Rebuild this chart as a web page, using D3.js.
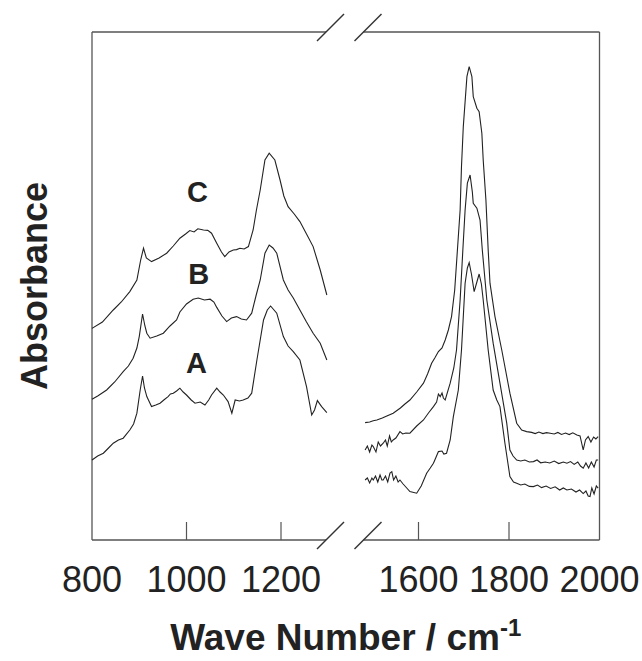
<!DOCTYPE html>
<html lang="en">
<head>
  <meta charset="UTF-8" />
  <title>Absorbance spectra</title>
  <style>
  body {
    margin: 0;
    background: #fff;
  }
  svg {
    display: block;
    font-family: "Liberation Sans", Arial, sans-serif;
  }
  </style>
  <script src="https://d3js.org/d3.v7.min.js"></script>
</head>
<body>
  <div id="chart"></div>
  <script>
    // Spectra: [wave number, absorbance (a.u.)]
    // low range 800-1300, high range 1480-2000
    const lowC = [[800,1.058],[822,1.09],[845,1.15],[862,1.19],[880,1.242],[895,1.30],[903,1.40],[909,1.459],[915,1.41],[926,1.392],[942,1.41],[958,1.434],[972,1.47],[986,1.509],[998,1.53],[1007,1.547],[1016,1.54],[1024,1.556],[1036,1.55],[1045,1.548],[1053,1.534],[1064,1.484],[1074,1.44],[1081,1.417],[1090,1.44],[1099,1.45],[1106,1.452],[1113,1.459],[1122,1.455],[1131,1.467],[1141,1.55],[1148,1.65],[1156,1.75],[1166,1.90],[1175,1.934],[1187,1.90],[1198,1.80],[1206,1.72],[1215,1.667],[1228,1.63],[1240,1.592],[1254,1.53],[1268,1.467],[1283,1.35],[1297,1.225]];
    const lowB = [[800,0.704],[812,0.72],[831,0.75],[848,0.79],[866,0.842],[877,0.87],[887,0.909],[895,0.96],[900,1.017],[907,1.13],[912,1.07],[916,1.034],[923,1.009],[937,1.02],[951,1.034],[965,1.07],[979,1.10],[986,1.14],[1000,1.18],[1014,1.204],[1025,1.21],[1038,1.20],[1050,1.204],[1058,1.19],[1064,1.163],[1075,1.12],[1085,1.092],[1095,1.11],[1106,1.117],[1116,1.105],[1127,1.10],[1138,1.134],[1147,1.22],[1156,1.30],[1166,1.434],[1175,1.475],[1183,1.46],[1191,1.434],[1205,1.30],[1215,1.25],[1226,1.21],[1240,1.15],[1254,1.09],[1268,1.034],[1283,0.984],[1297,0.90]];
    const lowA = [[800,0.40],[812,0.42],[824,0.434],[835,0.46],[845,0.484],[856,0.50],[866,0.509],[880,0.55],[888,0.58],[895,0.634],[902,0.75],[907,0.82],[911,0.76],[916,0.717],[926,0.667],[935,0.675],[944,0.684],[952,0.70],[961,0.717],[966,0.73],[972,0.734],[979,0.745],[986,0.759],[993,0.74],[1000,0.725],[1010,0.70],[1018,0.684],[1029,0.69],[1039,0.675],[1047,0.70],[1053,0.725],[1064,0.759],[1071,0.74],[1078,0.725],[1088,0.692],[1096,0.634],[1103,0.70],[1112,0.695],[1120,0.70],[1130,0.71],[1138,0.734],[1149,0.90],[1163,1.10],[1171,1.15],[1178,1.17],[1191,1.134],[1205,1.017],[1215,0.97],[1226,0.942],[1240,0.90],[1254,0.767],[1265,0.625],[1271,0.65],[1277,0.697],[1286,0.667],[1297,0.637]];

    const highC = [[1482,0.587],[1492,0.59],[1500,0.596],[1508,0.60],[1520,0.61],[1530,0.62],[1544,0.634],[1560,0.66],[1570,0.68],[1581,0.70],[1596,0.74],[1611,0.784],[1620,0.83],[1629,0.884],[1636,0.91],[1644,0.942],[1652,0.96],[1659,1.00],[1666,1.05],[1673,1.117],[1680,1.25],[1686,1.45],[1692,1.65],[1695,1.867],[1699,2.067],[1707,2.317],[1712,2.367],[1718,2.317],[1721,2.217],[1729,2.159],[1734,2.142],[1740,2.034],[1743,1.90],[1749,1.70],[1754,1.45],[1758,1.284],[1769,1.117],[1784,0.95],[1802,0.734],[1817,0.584],[1828,0.55],[1839,0.542],[1850,0.538],[1858,0.532],[1866,0.54],[1875,0.532],[1883,0.537],[1891,0.534],[1900,0.53],[1908,0.538],[1916,0.528],[1925,0.535],[1933,0.527],[1941,0.536],[1950,0.525],[1957,0.52],[1964,0.45],[1969,0.50],[1975,0.517],[1981,0.49],[1987,0.515],[1992,0.505],[1997,0.517]];
    const highB = [[1482,0.45],[1487,0.47],[1492,0.44],[1497,0.475],[1500,0.467],[1506,0.44],[1511,0.49],[1516,0.47],[1522,0.484],[1527,0.50],[1531,0.47],[1536,0.52],[1540,0.49],[1544,0.50],[1550,0.51],[1559,0.542],[1565,0.53],[1572,0.535],[1581,0.534],[1596,0.57],[1611,0.60],[1622,0.635],[1633,0.667],[1640,0.69],[1644,0.73],[1648,0.717],[1652,0.735],[1655,0.71],[1659,0.70],[1670,0.784],[1678,0.86],[1684,0.95],[1692,1.20],[1698,1.45],[1703,1.65],[1708,1.784],[1714,1.825],[1719,1.74],[1721,1.684],[1729,1.659],[1736,1.60],[1741,1.45],[1751,1.20],[1765,0.984],[1780,0.784],[1795,0.584],[1802,0.45],[1809,0.42],[1817,0.40],[1826,0.395],[1835,0.40],[1845,0.39],[1854,0.392],[1862,0.40],[1870,0.386],[1880,0.39],[1890,0.385],[1900,0.395],[1910,0.382],[1920,0.39],[1928,0.384],[1936,0.392],[1944,0.378],[1952,0.39],[1958,0.37],[1964,0.359],[1970,0.385],[1976,0.36],[1982,0.39],[1988,0.365],[1993,0.40],[1997,0.40]];
    const highA = [[1482,0.30],[1487,0.31],[1492,0.285],[1497,0.31],[1500,0.30],[1505,0.32],[1510,0.29],[1515,0.325],[1519,0.30],[1522,0.30],[1527,0.32],[1532,0.29],[1537,0.335],[1541,0.342],[1545,0.30],[1550,0.32],[1555,0.29],[1559,0.30],[1566,0.28],[1574,0.26],[1581,0.242],[1596,0.234],[1606,0.27],[1618,0.334],[1626,0.36],[1633,0.384],[1638,0.41],[1644,0.442],[1652,0.445],[1656,0.43],[1662,0.434],[1670,0.50],[1677,0.617],[1688,0.75],[1695,0.95],[1703,1.284],[1708,1.36],[1712,1.387],[1717,1.33],[1723,1.242],[1729,1.29],[1734,1.33],[1739,1.28],[1743,1.20],[1754,0.95],[1765,0.75],[1773,0.70],[1780,0.667],[1791,0.484],[1802,0.317],[1810,0.29],[1817,0.284],[1826,0.275],[1835,0.28],[1845,0.268],[1854,0.267],[1863,0.275],[1872,0.262],[1882,0.27],[1892,0.258],[1902,0.266],[1912,0.25],[1920,0.26],[1928,0.25],[1938,0.255],[1948,0.24],[1956,0.25],[1964,0.232],[1970,0.245],[1975,0.22],[1979,0.217],[1983,0.26],[1988,0.23],[1993,0.27],[1997,0.259]];

    const labels = [
      { text: "C", x: 1023, y: 1.69 },
      { text: "B", x: 1026, y: 1.28 },
      { text: "A", x: 1021, y: 0.837 }
    ];

    const lowTicks = [800, 1000, 1200];
    const highTicks = [1600, 1800, 2000];

    const width = 642;
    const height = 661;
    const frame = { left: 92, right: 599.5, top: 32, bottom: 540 };
    const breakLeft = 326;
    const breakRight = 363.5;

    // two segments of the broken wave number axis
    const xLow = d3.scaleLinear().domain([800, 1300]).range([frame.left, frame.left + 500 * 0.4725]);
    const xHigh = d3.scaleLinear().domain([1600, 2000]).range([418.5, frame.right]);
    const y = d3.scaleLinear().domain([0, 2.54]).range([frame.bottom, frame.top]);

    const svg = d3.select("#chart").append("svg")
      .attr("width", width)
      .attr("height", height);

    const ink = "#222";
    const frameColor = "#555";

    // frame, top and bottom broken
    const fr = svg.append("g").attr("stroke", frameColor).attr("stroke-width", 1.3).attr("fill", "none");
    fr.append("line").attr("x1", frame.left).attr("x2", frame.left).attr("y1", frame.top).attr("y2", frame.bottom);
    fr.append("line").attr("x1", frame.right).attr("x2", frame.right).attr("y1", frame.top).attr("y2", frame.bottom);
    [frame.top, frame.bottom].forEach(yy => {
      fr.append("line").attr("x1", frame.left).attr("x2", breakLeft).attr("y1", yy).attr("y2", yy);
      fr.append("line").attr("x1", breakRight).attr("x2", frame.right).attr("y1", yy).attr("y2", yy);
      // break marks
      [breakLeft, breakRight].forEach(bx => {
        svg.append("line")
          .attr("x1", bx - 9).attr("y1", yy + 9)
          .attr("x2", bx + 18).attr("y2", yy - 18)
          .attr("stroke", "#333").attr("stroke-width", 1.4);
      });
    });

    // inner ticks
    const tickLen = 18;
    const ticks = svg.append("g").attr("stroke", frameColor).attr("stroke-width", 1.2);
    lowTicks.filter(t => t > 800).forEach(t => {
      ticks.append("line").attr("x1", xLow(t)).attr("x2", xLow(t)).attr("y1", frame.bottom).attr("y2", frame.bottom - tickLen);
    });
    highTicks.filter(t => t < 2000).forEach(t => {
      ticks.append("line").attr("x1", xHigh(t)).attr("x2", xHigh(t)).attr("y1", frame.bottom).attr("y2", frame.bottom - tickLen);
    });

    // tick labels
    const tl = svg.append("g").attr("font-size", 36).attr("fill", ink).attr("text-anchor", "middle");
    lowTicks.forEach(t => tl.append("text").attr("x", xLow(t)).attr("y", 592).text(t));
    highTicks.forEach(t => tl.append("text").attr("x", xHigh(t)).attr("y", 592).text(t));

    // spectra
    const lineLow = d3.line().x(d => xLow(d[0])).y(d => y(d[1]));
    const lineHigh = d3.line().x(d => xHigh(d[0])).y(d => y(d[1]));
    [lowA, lowB, lowC].forEach(s => {
      svg.append("path").datum(s).attr("d", lineLow)
        .attr("fill", "none").attr("stroke", ink).attr("stroke-width", 1.1);
    });
    [highA, highB, highC].forEach(s => {
      svg.append("path").datum(s).attr("d", lineHigh)
        .attr("fill", "none").attr("stroke", ink).attr("stroke-width", 1.1);
    });

    // curve labels
    svg.selectAll(".curve-label")
      .data(labels)
      .enter().append("text")
      .attr("class", "curve-label")
      .attr("x", d => xLow(d.x))
      .attr("y", d => y(d.y))
      .attr("text-anchor", "middle")
      .attr("font-size", 29)
      .attr("font-weight", "bold")
      .attr("fill", ink)
      .text(d => d.text);

    // axis titles
    svg.append("text")
      .attr("transform", `translate(47,${(frame.top + frame.bottom) / 2}) rotate(-90)`)
      .attr("text-anchor", "middle")
      .attr("font-size", 36)
      .attr("font-weight", "bold")
      .attr("fill", ink)
      .text("Absorbance");

    const xt = svg.append("text")
      .attr("x", (frame.left + frame.right) / 2)
      .attr("y", 650)
      .attr("text-anchor", "middle")
      .attr("font-size", 37)
      .attr("font-weight", "bold")
      .attr("fill", ink);
    xt.append("tspan").text("Wave Number / cm");
    xt.append("tspan").attr("font-size", 24).attr("dy", -14).text("-1");
  </script>
</body>
</html>
